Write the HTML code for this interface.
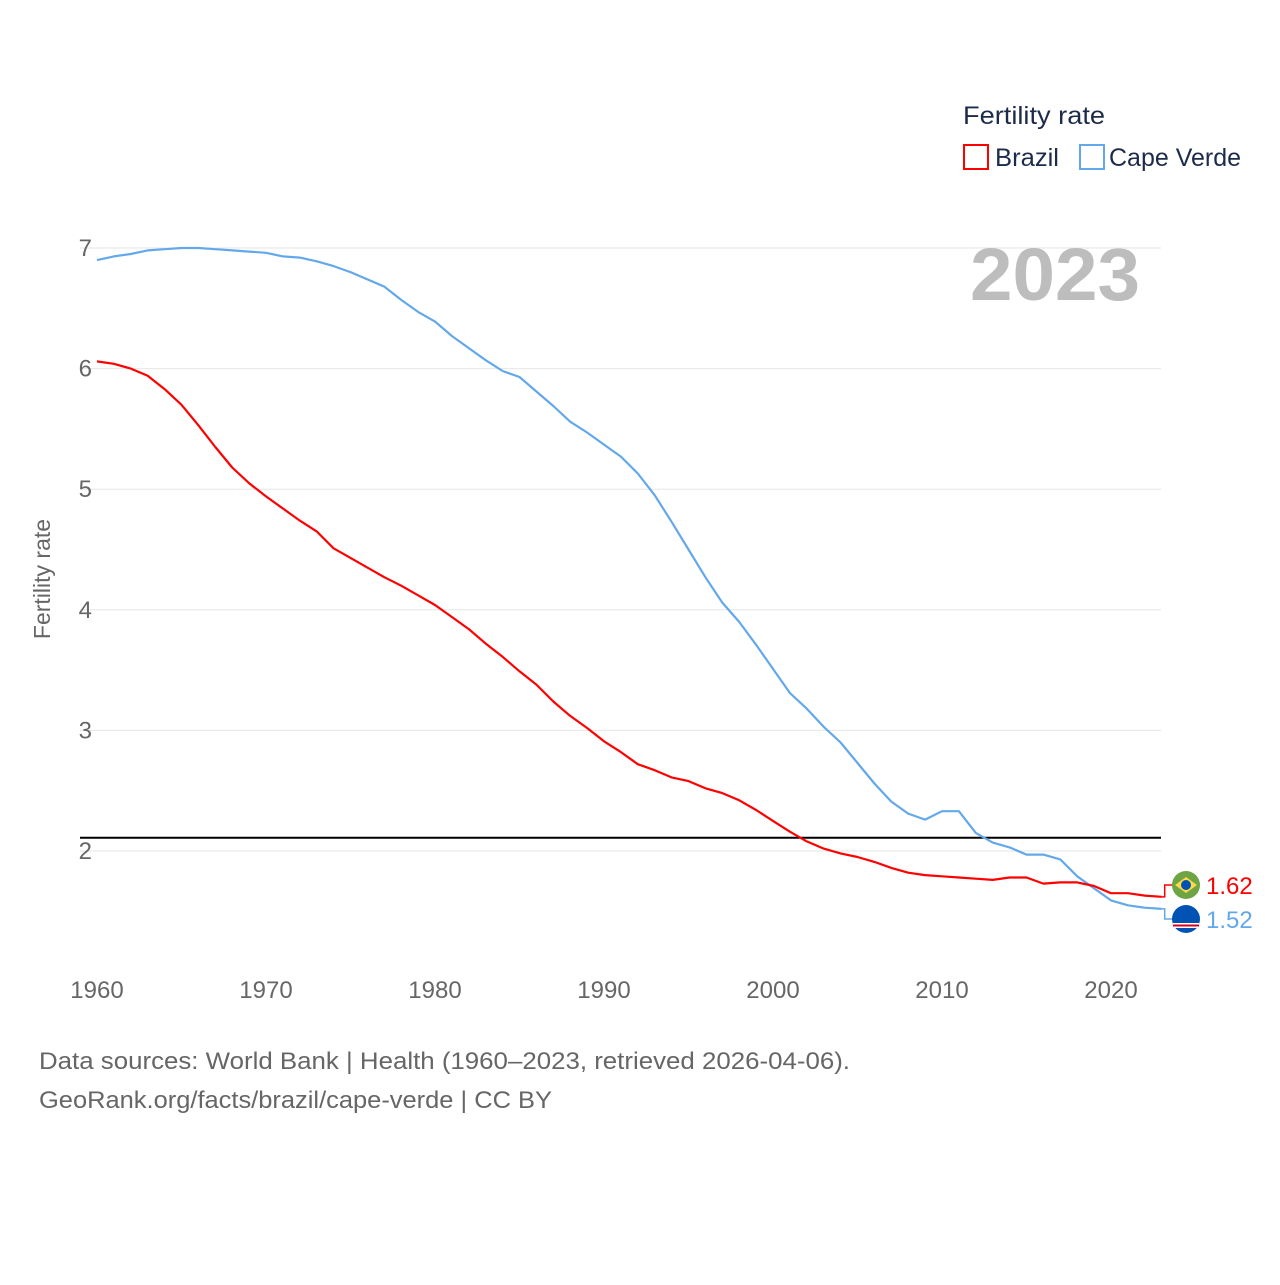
<!DOCTYPE html>
<html><head><meta charset="utf-8"><style>
body{margin:0;background:#fff;font-family:"Liberation Sans",sans-serif;}
svg text{font-family:"Liberation Sans",sans-serif;}
</style></head><body>
<svg width="1280" height="1280" xmlns="http://www.w3.org/2000/svg" id="chart">
<g id="grid"></g>
<g id="yticks"></g>
<g id="xticks"></g>
<text x="50" y="579" transform="rotate(-90 50 579)" text-anchor="middle" font-size="23" fill="#666">Fertility rate</text>
<text x="1140" y="300" text-anchor="end" font-size="74" font-weight="bold" fill="#bdbdbd" textLength="170" lengthAdjust="spacingAndGlyphs">2023</text>
<g>
<text x="963" y="124" font-size="25" fill="#1d2b4a" textLength="142" lengthAdjust="spacingAndGlyphs">Fertility rate</text>
<rect x="964" y="145" width="24" height="24" fill="none" stroke="#ff0000" stroke-width="2"/>
<text x="995" y="166" font-size="25" fill="#1d2b4a" textLength="64" lengthAdjust="spacingAndGlyphs">Brazil</text>
<rect x="1080" y="145" width="24" height="24" fill="none" stroke="#63a8ea" stroke-width="2"/>
<text x="1109" y="166" font-size="25" fill="#1d2b4a" textLength="132" lengthAdjust="spacingAndGlyphs">Cape Verde</text>
</g>
<g id="series"></g>
<text x="39" y="1069" font-size="24" fill="#666" textLength="811" lengthAdjust="spacingAndGlyphs">Data sources: World Bank | Health (1960–2023, retrieved 2026-04-06).</text>
<text x="39" y="1108" font-size="24" fill="#666" textLength="513" lengthAdjust="spacingAndGlyphs">GeoRank.org/facts/brazil/cape-verde | CC BY</text>
</svg>
<script>
const years = [];
for (let y = 1960; y <= 2023; y++) years.push(y);
const brazil = [6.06,6.04,6.0,5.94,5.83,5.70,5.53,5.35,5.18,5.05,4.94,4.84,4.74,4.65,4.51,4.43,4.35,4.27,4.20,4.12,4.04,3.94,3.84,3.72,3.61,3.49,3.38,3.24,3.12,3.02,2.91,2.82,2.72,2.67,2.61,2.58,2.52,2.48,2.42,2.34,2.25,2.16,2.08,2.02,1.98,1.95,1.91,1.86,1.82,1.80,1.79,1.78,1.77,1.76,1.78,1.78,1.73,1.74,1.74,1.71,1.65,1.65,1.63,1.62];
const capeVerde = [6.90,6.93,6.95,6.98,6.99,7.0,7.0,6.99,6.98,6.97,6.96,6.93,6.92,6.89,6.85,6.80,6.74,6.68,6.57,6.47,6.39,6.27,6.17,6.07,5.98,5.93,5.81,5.69,5.56,5.47,5.37,5.27,5.13,4.95,4.73,4.50,4.27,4.06,3.90,3.71,3.51,3.31,3.18,3.03,2.90,2.73,2.56,2.41,2.31,2.26,2.33,2.33,2.15,2.07,2.03,1.97,1.97,1.93,1.79,1.69,1.59,1.55,1.53,1.52];
const yTicks = [2,3,4,5,6,7];
const xTicks = [1960,1970,1980,1990,2000,2010,2020];
const replacementRate = 2.11;

const NS = "http://www.w3.org/2000/svg";
const X = yr => 97 + (yr - 1960) * (1111 - 97) / 60;
const Y = v => 851 - (v - 2) * (851 - 248) / 5;
function mk(tag, attrs, parent){const e=document.createElementNS(NS,tag);for(const k in attrs)e.setAttribute(k,attrs[k]);parent.appendChild(e);return e;}
const grid=document.getElementById('grid'), yt=document.getElementById('yticks'), xt=document.getElementById('xticks'), ser=document.getElementById('series');
yTicks.forEach(v=>{
  const l=mk('line',{x1:80,x2:1161,y1:Y(v),y2:Y(v),stroke:'#e6e6e6','stroke-width':1},grid);
  
  
  const t=mk('text',{x:92,y:Y(v)+8,'text-anchor':'end','font-size':24,fill:'#666'},yt);
  t.textContent=v;
  
  
});
xTicks.forEach(v=>{
  const t=mk('text',{x:X(v),y:998,'text-anchor':'middle','font-size':24,fill:'#666'},xt);
  t.textContent=v;
  
  
});
const ref=mk('line',{x1:80,x2:1161,y1:Y(replacementRate),y2:Y(replacementRate),stroke:'#000','stroke-width':2},ser);


function line(vals,color,name){
  const d=vals.map((v,i)=>(i?'L':'M')+X(years[i]).toFixed(1)+' '+Y(v).toFixed(1)).join(' ');
  const p=mk('path',{d:d,fill:'none',stroke:color,'stroke-width':2.2,'stroke-linejoin':'round'},ser);
  
  
}
line(capeVerde,'#63a8ea','cape-verde-line');
line(brazil,'#ff0000','brazil-line');
function endLabel(vals,color,ly,name,flag){
  const v=vals[vals.length-1], x=X(2023), y=Y(v);
  const c=mk('path',{d:`M${x} ${y} L${x+3} ${y} L${x+3} ${ly} L${x+12} ${ly}`,fill:'none',stroke:color,'stroke-width':1.5},ser);
  
  
  const g=mk('g',{},ser);
  
  
  if(flag==='br'){
    mk('circle',{cx:1186,cy:ly,r:14,fill:'#6da544'},g);
    mk('polygon',{points:`1175,${ly} 1186,${ly-8} 1197,${ly} 1186,${ly+8}`,fill:'#ffda44'},g);
    mk('circle',{cx:1186,cy:ly,r:5,fill:'#0052b4'},g);
  } else {
    mk('circle',{cx:1186,cy:ly,r:14,fill:'#0052b4'},g);
    mk('rect',{x:1173,y:ly+4,width:26,height:5,fill:'#fff'},g);
    mk('rect',{x:1173,y:ly+5.5,width:26,height:2,fill:'#d80027'},g);
  }
  const t=mk('text',{x:1206,y:ly+9,'font-size':24,fill:color},ser);
  t.textContent=v.toFixed(2);
  
  
}
endLabel(brazil,'#ff0000',885,'brazil','br');
endLabel(capeVerde,'#63a8ea',919,'cape-verde','cv');
</script>
</body></html>
